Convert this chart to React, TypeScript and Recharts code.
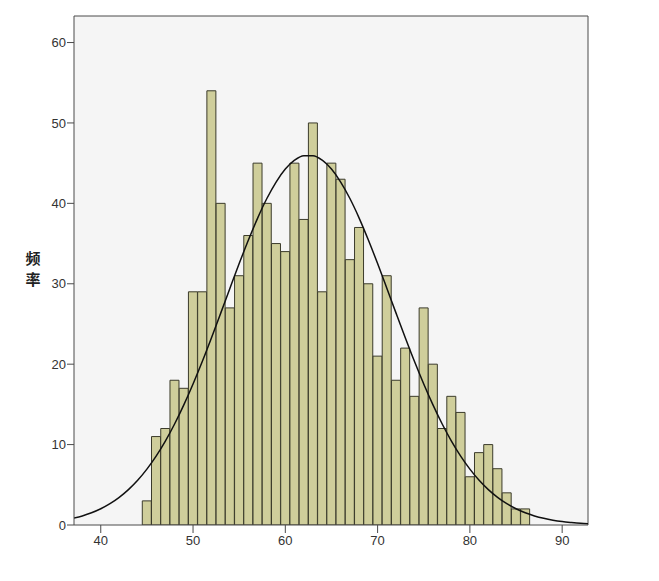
import {
  Bar,
  CartesianGrid,
  ComposedChart,
  Line,
  XAxis,
  YAxis,
} from "recharts";

// bin centres and counts
const bins = [
  45, 46, 47, 48, 49, 50, 51, 52, 53, 54, 55, 56, 57, 58, 59, 60, 61, 62, 63, 64, 65,
  66, 67, 68, 69, 70, 71, 72, 73, 74, 75, 76, 77, 78, 79, 80, 81, 82, 83, 84, 85, 86,
];
const counts = [
  3, 11, 12, 18, 17, 29, 29, 54, 40, 27, 31, 36, 45, 40, 35, 34, 45, 38, 50, 29, 45,
  43, 33, 37, 30, 21, 31, 18, 22, 16, 27, 20, 12, 16, 14, 6, 9, 10, 7, 4, 2, 2,
];

// normal curve, read at each whole value
const curveX = [
  37, 38, 39, 40, 41, 42, 43, 44, 45, 46, 47, 48, 49, 50, 51, 52, 53, 54, 55, 56, 57,
  58, 59, 60, 61, 62, 63, 64, 65, 66, 67, 68, 69, 70, 71, 72, 73, 74, 75, 76, 77, 78,
  79, 80, 81, 82, 83, 84, 85, 86, 87, 88, 89, 90, 91, 92, 93,
];
const curveY = [
  0.83, 1.13, 1.52, 2.02, 2.65, 3.44, 4.4, 5.56, 6.95, 8.57, 10.44, 12.56, 14.94,
  17.54, 20.33, 23.29, 26.35, 29.45, 32.51, 35.44, 38.17, 40.6, 42.65, 44.26, 45.37,
  45.93, 45.93, 45.37, 44.26, 42.65, 40.6, 38.17, 35.44, 32.51, 29.45, 26.35, 23.29,
  20.33, 17.54, 14.94, 12.56, 10.44, 8.57, 6.95, 5.56, 4.4, 3.44, 2.65, 2.02, 1.52,
  1.13, 0.83, 0.6, 0.43, 0.31, 0.21, 0.15,
];

const xTicks = [40, 50, 60, 70, 80, 90];
const yTicks = [0, 10, 20, 30, 40, 50, 60];
const yLabel = ["频", "率"];

const data = curveX.map((x, i) => {
  const b = bins.indexOf(x);
  return { x, count: b >= 0 ? counts[b] : null, curve: curveY[i] };
});

const tickStyle = { fill: "#333", fontSize: 13, fontFamily: "Liberation Sans, Arial" };
const frame = "#4a4a4a";

const YLabel = ({ viewBox }: any) => (
  <text
    x={viewBox.x + 25}
    y={viewBox.y + 248}
    textAnchor="middle"
    fill="#222"
    fontSize={15}
    fontWeight="bold"
    fontFamily="Noto Sans CJK SC"
  >
    {yLabel.map((c, i) => (
      <tspan key={c} x={viewBox.x + 25} dy={i === 0 ? 0 : 21}>
        {c}
      </tspan>
    ))}
  </text>
);

export default function App() {
  return (
    <ComposedChart
      width={640}
      height={560}
      data={data}
      margin={{ top: 8, right: 60, bottom: 0, left: 0 }}
      barCategoryGap={0}
      barGap={0}
    >
      {/* plot background plus top and right edges of the frame */}
      <CartesianGrid
        fill="#f5f5f5"
        stroke={frame}
        horizontalCoordinatesGenerator={({ offset }: any) => [offset.top]}
        verticalCoordinatesGenerator={({ offset }: any) => [offset.left + offset.width]}
      />
      <XAxis
        dataKey="x"
        type="number"
        domain={[37.1, 92.8]}
        ticks={xTicks}
        allowDataOverflow
        height={43}
        tick={tickStyle}
        tickSize={8}
        tickMargin={3}
        stroke={frame}
      />
      <YAxis
        domain={[0, 63.3]}
        ticks={yTicks}
        allowDataOverflow
        width={66}
        tick={tickStyle}
        tickSize={7}
        tickMargin={1}
        stroke={frame}
        label={{ content: YLabel }}
      />
      <Bar
        dataKey="count"
        fill="#cfce9b"
        stroke="#3b3b2b"
        strokeWidth={1}
        isAnimationActive={false}
      />
      <Line
        dataKey="curve"
        type="monotone"
        stroke="#111"
        strokeWidth={1.5}
        dot={false}
        activeDot={false}
        isAnimationActive={false}
      />
    </ComposedChart>
  );
}
